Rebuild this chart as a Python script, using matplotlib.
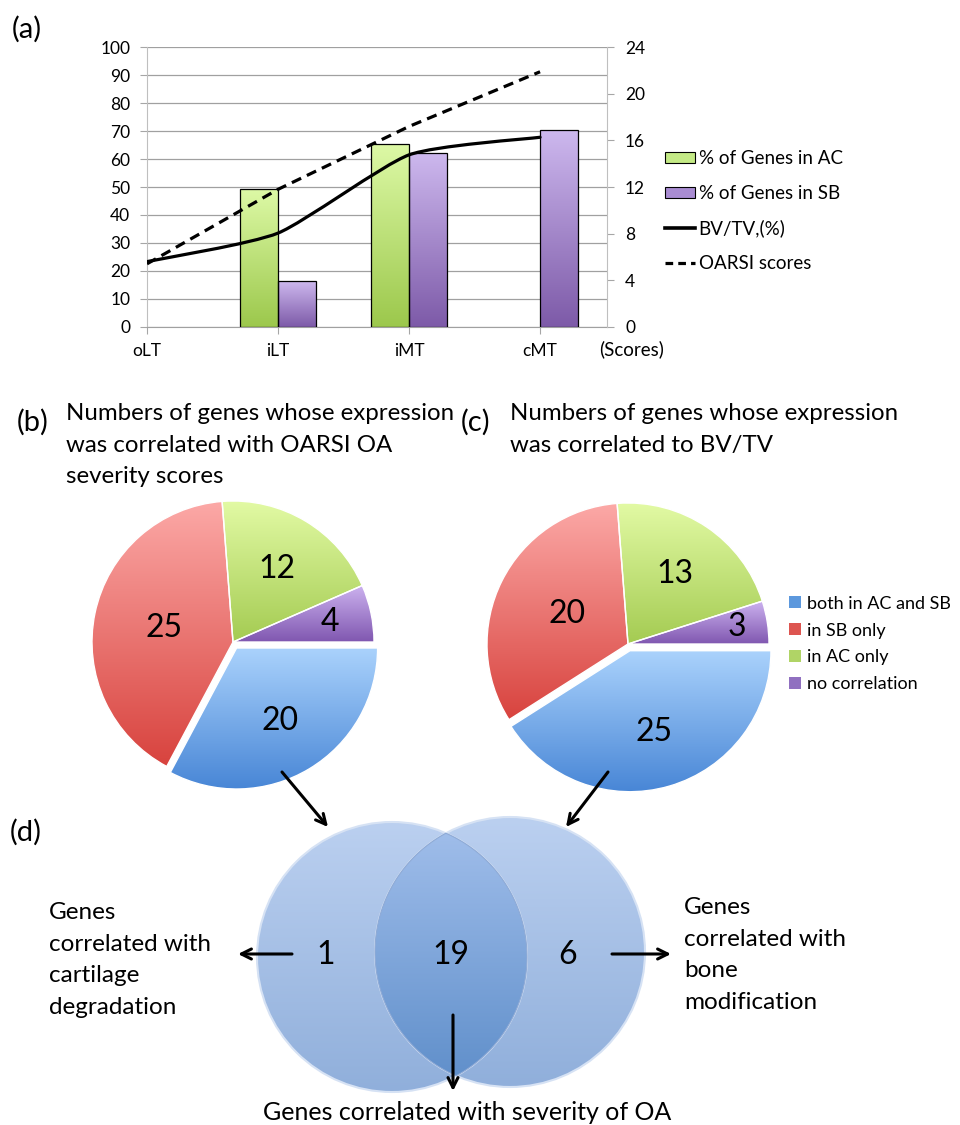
import numpy as np
import matplotlib
matplotlib.use('Agg')
import matplotlib.pyplot as plt
from matplotlib.colors import to_rgb
from matplotlib.patches import Circle, Patch, PathPatch, Polygon
from matplotlib.lines import Line2D
from matplotlib.path import Path

plt.rcParams['font.family'] = ['Lato', 'DejaVu Sans']

W, H = 960, 1125

# (a) gene percentages per region, BV/TV and OARSI scores
stages = ['oLT', 'iLT', 'iMT', 'cMT']
genes_ac = [0, 49.2, 65.4, 0]
genes_sb = [0, 16.4, 62.1, 70.4]
bvtv = [23.3, 33.5, 61.5, 67.8]
oarsi = [5.4, 11.8, 17.2, 21.9]

# (b), (c) gene counts by correlation group
groups = ['both in AC and SB', 'in SB only', 'in AC only', 'no correlation']
counts_oarsi = [20, 25, 12, 4]
counts_bvtv = [25, 20, 13, 3]

# (d) overlap of the "both" genes: OARSI only, shared, BV/TV only
venn_counts = [1, 19, 6]

grad_green = ('#ddf9a6', '#9cc84c')
grad_purple = ('#cdb8ee', '#7d5aa8')
pie_grads = [('#aad2fc', '#4886d6'), ('#fca9a7', '#d8433e'),
             ('#e2faa4', '#a4cb52'), ('#ccb2ef', '#8057b0')]
pie_mid = ['#5c98dd', '#dd5550', '#b0d466', '#9070c0']


def gradient(top, bottom, n=256):
    c0 = np.array(to_rgb(top))
    c1 = np.array(to_rgb(bottom))
    t = np.linspace(0, 1, n)[:, None]
    return (c0 + (c1 - c0) * t)[:, None, :]


def Y(y):
    return H - y


fig = plt.figure(figsize=(W / 100, H / 100), dpi=100)

# canvas in pixel units for pies, venn, arrows and labels
cv = fig.add_axes([0, 0, 1, 1], zorder=0)
cv.set_axis_off()

# ---------------- (a) ----------------
ax = fig.add_axes([147 / W, 1 - 326.7 / H, 460 / W, 279.4 / H], zorder=2)
ax.set_facecolor('none')
x = np.arange(len(stages))
bw = 0.29
bars_ac = ax.bar(x, genes_ac, width=-bw, align='edge', facecolor='none',
                 edgecolor='black', lw=0.9, zorder=3)
bars_sb = ax.bar(x, genes_sb, width=bw, align='edge', facecolor='none',
                 edgecolor='black', lw=0.9, zorder=3)
for bars, (top, bot) in [(bars_ac, grad_green), (bars_sb, grad_purple)]:
    for b in bars:
        if b.get_height() <= 0:
            b.set_visible(False)
            continue
        x0, y0 = b.get_xy()
        ax.imshow(gradient(top, bot), extent=[x0, x0 + b.get_width(), y0, y0 + b.get_height()],
                  aspect='auto', zorder=2.5, interpolation='bilinear')

# smoothed BV/TV curve (low-tension Catmull-Rom through the points)
tension = 1 / 10
pts = np.column_stack([x, bvtv]).astype(float)
ext = np.vstack([pts[0], pts, pts[-1]])
verts, codes = [pts[0]], [Path.MOVETO]
for i in range(len(pts) - 1):
    p0, p1, p2, p3 = ext[i], ext[i + 1], ext[i + 2], ext[i + 3]
    verts += [p1 + (p2 - p0) * tension, p2 - (p3 - p1) * tension, p2]
    codes += [Path.CURVE4] * 3
ax.add_patch(PathPatch(Path(verts, codes), fill=False, lw=2.3, edgecolor='black',
                       zorder=4, capstyle='round'))

ax.set_xlim(0, 3.511)
ax.set_ylim(0, 100)
ax.set_yticks(np.arange(0, 101, 10))
ax.set_xticks(x)
ax.set_xticklabels(stages)
ax.grid(axis='y', color='#a0a0a0', lw=0.9, zorder=0)
ax.set_axisbelow(True)
ax.tick_params(axis='y', length=5, color='#a6a6a6', pad=7, labelsize=12.5)
ax.tick_params(axis='x', length=5, color='#a6a6a6', pad=7, labelsize=12.5)
for s in ['top', 'right']:
    ax.spines[s].set_visible(False)
ax.spines['left'].set_color('#bfbfbf')
ax.spines['bottom'].set_color('#a0a0a0')

ax2 = ax.twinx()
ax2.set_zorder(3)
ax2.plot(x, oarsi, color='black', lw=2.3, ls=(0, (3.2, 2.0)))
ax2.set_ylim(0, 24)
ax2.set_yticks(np.arange(0, 25, 4))
ax2.tick_params(axis='y', length=5, color='#a6a6a6', pad=8, labelsize=12.5)
for s in ['top', 'left', 'bottom']:
    ax2.spines[s].set_visible(False)
ax2.spines['right'].set_color('#bfbfbf')

fig.text(632 / W, 1 - 349 / H, '(Scores)', ha='center', va='center', fontsize=13.5)

handles = [Patch(facecolor='#c4ea86', edgecolor='black', lw=0.8),
           Patch(facecolor='#a98cd2', edgecolor='black', lw=0.8),
           Line2D([], [], color='black', lw=2.6),
           Line2D([], [], color='black', lw=2.3, ls=(0, (2.4, 1.6)))]
ax2.legend(handles, ['% of Genes in AC', '% of Genes in SB', 'BV/TV,(%)', 'OARSI scores'],
           loc='upper left', bbox_to_anchor=(665 / W, 1 - 150 / H),
           bbox_transform=fig.transFigure, frameon=False, fontsize=13.5,
           handlelength=1.6, handleheight=0.55, labelspacing=0.95,
           handletextpad=0.2, borderaxespad=0, borderpad=0)

fig.text(12 / W, 1 - 29 / H, '(a)', ha='left', va='center', fontsize=21)


# ---------------- (b), (c) pies ----------------
def draw_pie(counts, cx, cy, label_r, r=141):
    wedges, _ = cv.pie(counts, colors=pie_mid, startangle=0, counterclock=False,
                       explode=[7, 0, 0, 0], radius=r, center=(cx, Y(cy)), frame=True,
                       wedgeprops=dict(edgecolor='white', lw=1.0))
    for w, (top, bot), n, lr in zip(wedges, pie_grads, counts, label_r):
        e = w.get_path().get_extents()
        im = cv.imshow(gradient(top, bot), extent=[e.x0, e.x1, e.y0, e.y1],
                       aspect='auto', zorder=1, interpolation='bilinear')
        im.set_clip_path(w)
        w.set_facecolor('none')
        w.set_zorder(2)
        tm = np.deg2rad((w.theta1 + w.theta2) / 2)
        wx, wy = w.center
        cv.text(wx + lr * r * np.cos(tm), wy + lr * r * np.sin(tm), str(n),
                ha='center', va='center', fontsize=23, zorder=3)
    return wedges


draw_pie(counts_oarsi, 233, 642, [0.6, 0.5, 0.6, 0.7])
draw_pie(counts_bvtv, 628, 644, [0.6, 0.48, 0.6, 0.78])

cv.legend([Patch(facecolor=c, edgecolor='none') for c in pie_mid], groups,
          loc='center left', bbox_to_anchor=(789 / W, 1 - 644 / H), frameon=False,
          fontsize=13, handlelength=0.65, handleheight=0.65, labelspacing=0.6,
          handletextpad=0.35, borderaxespad=0, borderpad=0)

cv.text(17, Y(422), '(b)', ha='left', va='center', fontsize=21)
cv.text(66, Y(403), 'Numbers of genes whose expression\nwas correlated with OARSI OA\nseverity scores',
        ha='left', va='top', fontsize=17.3, linespacing=1.62)
cv.text(461, Y(422), '(c)', ha='left', va='center', fontsize=21)
cv.text(510, Y(403), 'Numbers of genes whose expression\nwas correlated to BV/TV',
        ha='left', va='top', fontsize=17.3, linespacing=1.62)

# ---------------- (d) venn ----------------
r_v = 135
c1 = np.array([392.0, Y(957)])
c2 = np.array([510.0, Y(952)])
venn_top, venn_bot = '#bbd0f0', '#90afdb'
lens_top, lens_bot = '#9fbdea', '#6190cb'

for c in (c1, c2):
    circ = Circle(c, r_v, facecolor='none', edgecolor='#d6e2f4', lw=1.5, zorder=2)
    cv.add_patch(circ)
    im = cv.imshow(gradient(venn_top, venn_bot),
                   extent=[c[0] - r_v, c[0] + r_v, c[1] - r_v, c[1] + r_v],
                   aspect='auto', zorder=1, interpolation='bilinear')
    im.set_clip_path(circ)

# lens = arc of circle 1 inside circle 2 + arc of circle 2 inside circle 1
t = np.linspace(-np.pi, np.pi, 721)
arc1 = c1 + r_v * np.column_stack([np.cos(t), np.sin(t)])
arc1 = arc1[np.hypot(*(arc1 - c2).T) <= r_v]
t2 = np.linspace(0, 2 * np.pi, 721)
arc2 = c2 + r_v * np.column_stack([np.cos(t2), np.sin(t2)])
arc2 = arc2[np.hypot(*(arc2 - c1).T) <= r_v]
lens = Polygon(np.vstack([arc1, arc2]), closed=True, facecolor='none',
               edgecolor='#8eaad6', lw=0.8, zorder=2.2)
cv.add_patch(lens)
lb = lens.get_path().get_extents()
im = cv.imshow(gradient(lens_top, lens_bot), extent=[lb.x0, lb.x1, lb.y0, lb.y1],
               aspect='auto', zorder=2.1, interpolation='bilinear')
im.set_clip_path(lens)

lens_x = (c2[0] - r_v + c1[0] + r_v) / 2
for n, px in zip(venn_counts, [c1[0] - r_v / 2 + 1, lens_x, c2[0] + r_v / 2 - 10]):
    cv.text(px, Y(955), str(n), ha='center', va='center', fontsize=23, zorder=4)

arrow = dict(arrowstyle='->', lw=2.2, color='black', mutation_scale=18,
             shrinkA=0, shrinkB=0)
cv.annotate('', xy=(328, Y(827)), xytext=(282, Y(772)), arrowprops=arrow, zorder=5)
cv.annotate('', xy=(566, Y(827)), xytext=(608, Y(772)), arrowprops=arrow, zorder=5)
cv.annotate('', xy=(238, Y(954)), xytext=(292, Y(954)), arrowprops=arrow, zorder=5)
cv.annotate('', xy=(671, Y(954)), xytext=(612, Y(954)), arrowprops=arrow, zorder=5)
cv.annotate('', xy=(453, Y(1091)), xytext=(453, Y(1015)), arrowprops=arrow, zorder=5)

cv.text(10, Y(832), '(d)', ha='left', va='center', fontsize=21)
cv.text(49, Y(902), 'Genes\ncorrelated with\ncartilage\ndegradation',
        ha='left', va='top', fontsize=17.5, linespacing=1.63)
cv.text(684, Y(897), 'Genes\ncorrelated with\nbone\nmodification',
        ha='left', va='top', fontsize=17.5, linespacing=1.63)
cv.text(467, Y(1112), 'Genes correlated with severity of OA',
        ha='center', va='center', fontsize=18)

cv.set_xlim(0, W)
cv.set_ylim(0, H)

fig.savefig('out.png', dpi=100)
